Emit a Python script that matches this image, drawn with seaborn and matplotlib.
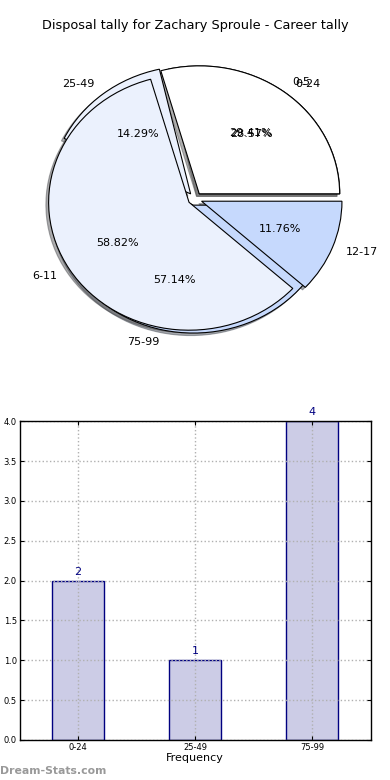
import matplotlib
matplotlib.use('Agg')
import matplotlib.pyplot as plt
import seaborn as sns

# ── DATA ───────────────────────────────────────────────
title = 'Disposal tally for Zachary Sproule - Career tally'

# older tally (drawn on top)
old_bins = ['0-5', '6-11', '12-17']
old_counts = [5, 10, 2]

# career tally bins
bins = ['0-24', '25-49', '75-99']
counts = [2, 1, 4]

pie_colors = ['white', '#ebf1fd', '#c6d9fd']

# ── STYLE ──────────────────────────────────────────────
sns.set_style('white')
plt.rcParams['font.family'] = ['DejaVu Sans']
plt.rcParams['text.color'] = 'black'
plt.rcParams['axes.labelcolor'] = 'black'
plt.rcParams['xtick.color'] = 'black'
plt.rcParams['ytick.color'] = 'black'

fig = plt.figure(figsize=(3.9, 7.8), dpi=100)

# ── PIE ────────────────────────────────────────────────
ax1 = fig.add_axes([0.05, 0.54, 0.9, 0.41])
for labels, vals in [(bins, counts), (old_bins, old_counts)]:
    ax1.pie(vals, labels=labels, colors=pie_colors, explode=[0.05] * len(vals),
            autopct='%.2f%%', shadow={'ox': -0.014, 'oy': -0.014, 'alpha': 0.45},
            wedgeprops={'edgecolor': 'black', 'linewidth': 0.8},
            textprops={'fontsize': 8, 'color': 'black'})
ax1.set_aspect('auto')
ax1.set_xlim(-1.25, 1.25)
ax1.set_ylim(-1.25, 1.25)
ax1.set_title(title, fontsize=9.3, pad=7, color='black')

# ── BAR ────────────────────────────────────────────────
ax2 = fig.add_axes([0.05, 0.0513, 0.9, 0.4087])
sns.barplot(x=bins, y=counts, ax=ax2, width=0.44, color='#ccccE6',
            saturation=1, edgecolor='navy', linewidth=1)
for i, c in enumerate(counts):
    ax2.text(i, c + 0.05, str(c), color='navy', ha='center', va='bottom', fontsize=8)
ax2.set_xlim(-0.5, 2.5)
ax2.set_ylim(0, 4)
ax2.set_yticks([0, 0.5, 1, 1.5, 2, 2.5, 3, 3.5, 4])
ax2.set_yticklabels(['%.1f' % v for v in ax2.get_yticks()])
ax2.grid(True, linestyle=':', color='#b0b0b0', linewidth=1)
ax2.set_axisbelow(False)
for b in ax2.patches:
    b.set_zorder(1)
ax2.tick_params(axis='both', labelsize=6, direction='in', length=3,
                top=True, right=True, bottom=True, left=True, pad=2)
for s in ax2.spines.values():
    s.set_color('black')
    s.set_linewidth(1)
    s.set_zorder(5)
ax2.set_xlabel('Frequency', fontsize=8, labelpad=1)

fig.text(0.0, 0.005, 'Dream-Stats.com', color='#999999', fontsize=7.8,
         fontweight='bold', ha='left', va='bottom')

fig.savefig('out.png', dpi=100)
